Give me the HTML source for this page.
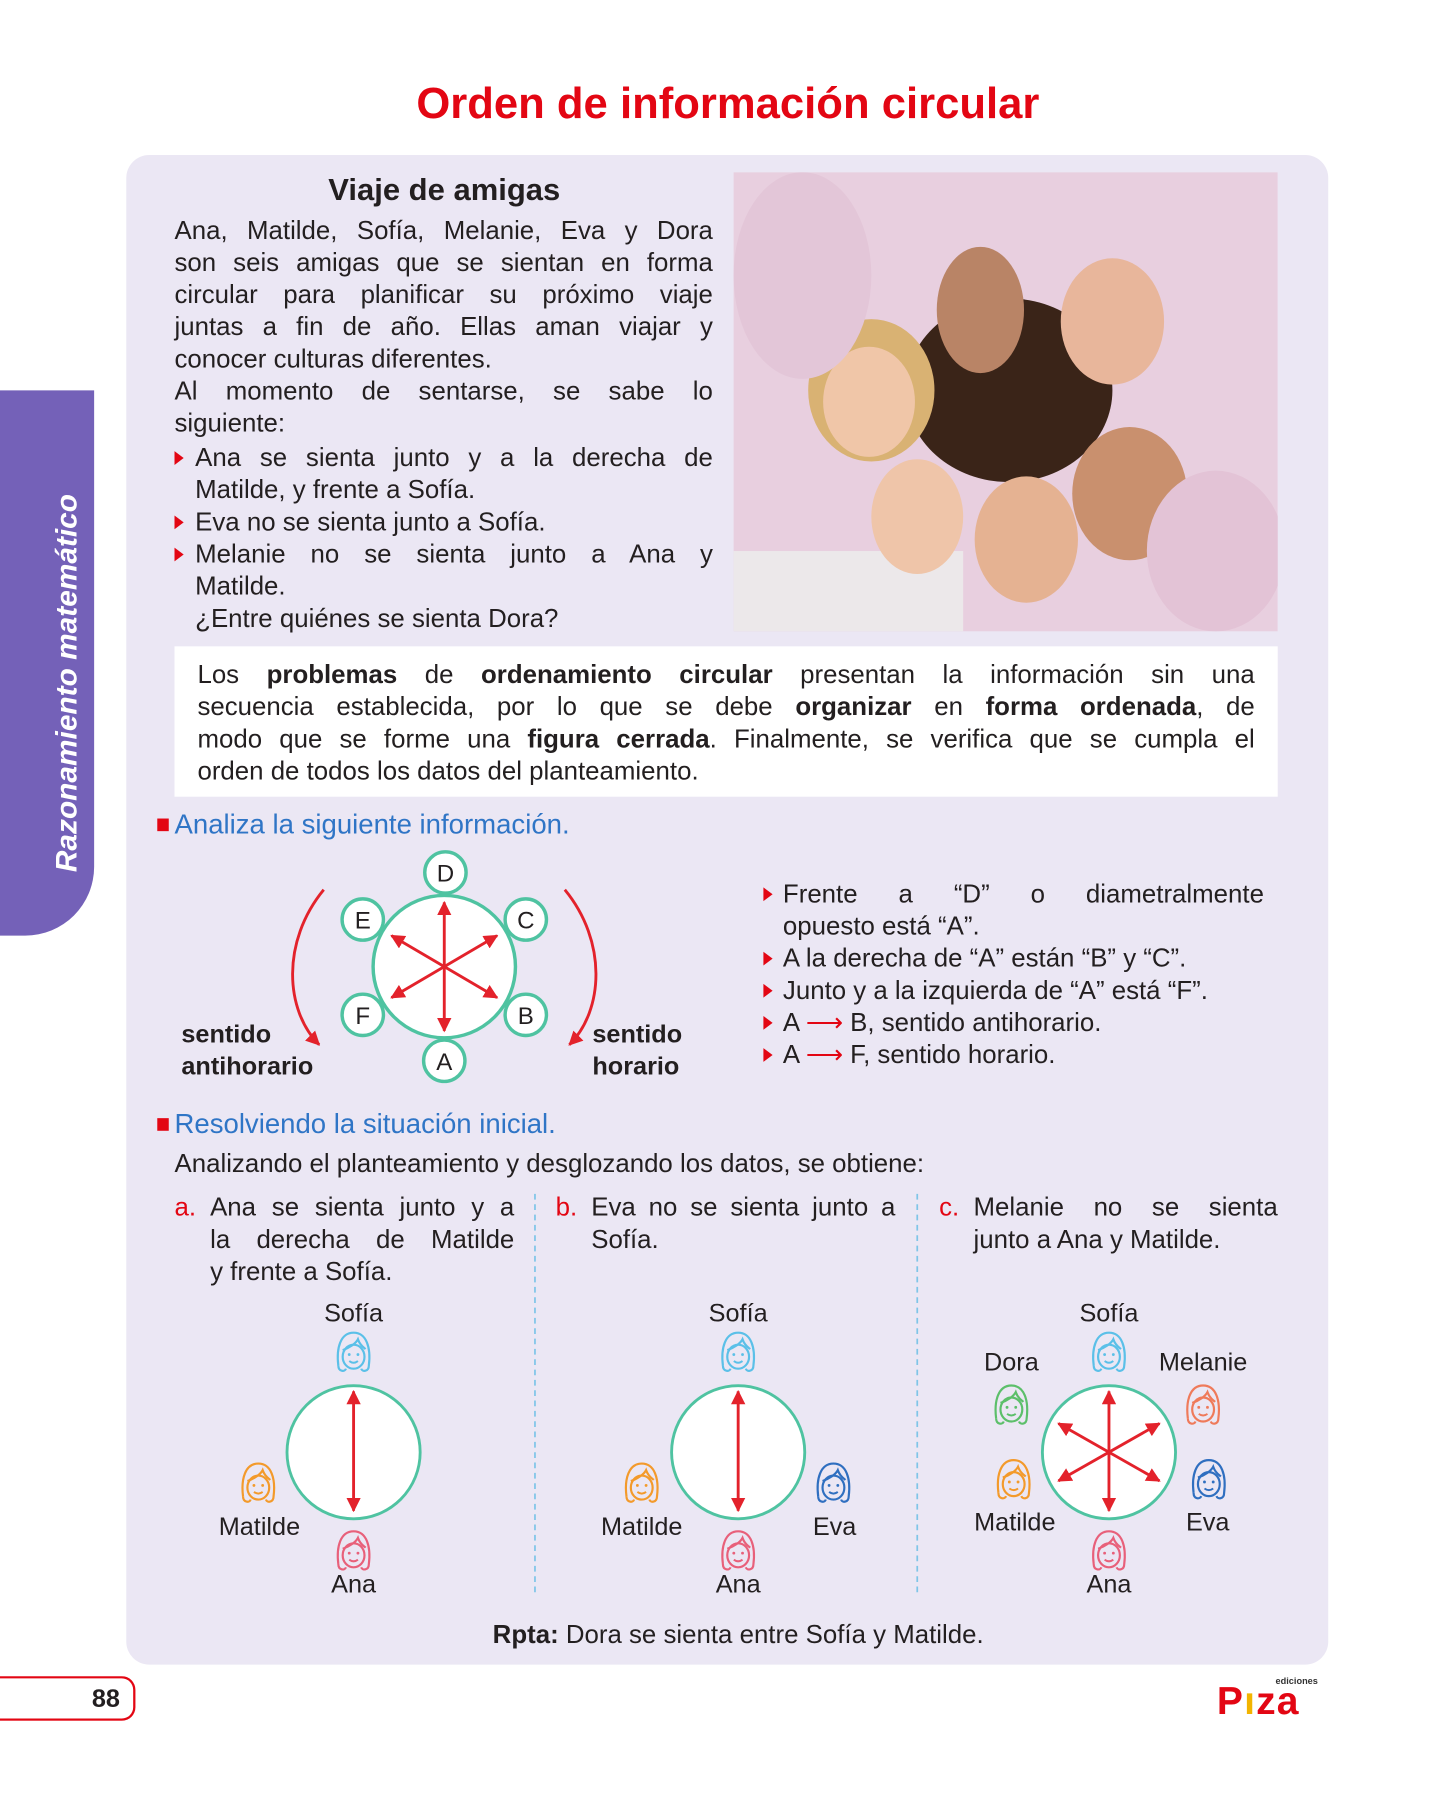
<!DOCTYPE html>
<html><head><meta charset="utf-8">
<style>
html,body{margin:0;padding:0;background:#fff;}
body{width:1452px;height:1800px;overflow:hidden;position:relative;font-family:"Liberation Sans",sans-serif;color:#231f20;}
#s{position:absolute;left:0;top:0;width:1270px;height:1555px;transform-origin:0 0;transform:scale(1.148,1.148);}
.a{position:absolute;}
.t{font-size:22.5px;line-height:28px;white-space:nowrap;}
.j{text-align:justify;text-align-last:justify;white-space:normal;}
.tri{display:inline-block;width:0;height:0;border-left:8px solid #e30613;border-top:6px solid transparent;border-bottom:6px solid transparent;position:absolute;left:0;top:8px;}
b{font-weight:bold;}
.blue{color:#2f75c6;}
.red{color:#e30613;}
</style></head><body>
<div id="s">
<div class="a" style="left:0;width:1268px;top:70px;text-align:center;font-size:38px;font-weight:bold;color:#e30613;">Orden de información circular</div>

<div class="a" style="left:110px;top:135px;width:1047px;height:1315px;background:#ebe7f4;border-radius:20px;"></div>

<div class="a" style="left:0;top:340px;width:82px;height:475px;background:#7461b8;border-radius:0 0 60px 0;"></div>
<div class="a" style="left:58px;top:595px;transform:translate(-50%,-50%) rotate(-90deg);white-space:nowrap;color:#fff;font-weight:bold;font-style:italic;font-size:26px;">Razonamiento matemático</div>

<div class="a" style="left:152px;width:470px;top:150px;text-align:center;font-size:27px;font-weight:bold;">Viaje de amigas</div>
<div class="a" style="left:152px;top:187px;width:469px;">
<div class="t j">Ana, Matilde, Sofía, Melanie, Eva y Dora</div>
<div class="t j">son seis amigas que se sientan en forma</div>
<div class="t j">circular para planificar su próximo viaje</div>
<div class="t j">juntas a fin de año. Ellas aman viajar y</div>
<div class="t">conocer culturas diferentes.</div>
<div class="t j">Al momento de sentarse, se sabe lo</div>
<div class="t">siguiente:</div>
<div style="position:relative;padding-left:18px;margin-top:2px;"><span class="tri"></span><div class="t j">Ana se sienta junto y a la derecha de</div><div class="t">Matilde, y frente a Sofía.</div></div>
<div style="position:relative;padding-left:18px;"><span class="tri"></span><div class="t">Eva no se sienta junto a Sofía.</div></div>
<div style="position:relative;padding-left:18px;"><span class="tri"></span><div class="t j">Melanie no se sienta junto a Ana y</div><div class="t">Matilde.</div><div class="t">¿Entre quiénes se sienta Dora?</div></div>
</div>

<svg class="a" style="left:639px;top:150px;" width="474" height="400" viewBox="0 0 474 400">
<rect width="474" height="400" fill="#e8cfdf"/>
<rect x="0" y="330" width="200" height="70" fill="#ece8ea"/>
<ellipse cx="240" cy="190" rx="90" ry="80" fill="#3a2418"/>
<ellipse cx="120" cy="190" rx="55" ry="62" fill="#d9b273"/>
<ellipse cx="118" cy="200" rx="40" ry="48" fill="#f0c6a8"/>
<ellipse cx="215" cy="120" rx="38" ry="55" fill="#b98466"/>
<ellipse cx="330" cy="130" rx="45" ry="55" fill="#e8b69b"/>
<ellipse cx="345" cy="280" rx="50" ry="58" fill="#c9906e"/>
<ellipse cx="255" cy="320" rx="45" ry="55" fill="#e5b292"/>
<ellipse cx="160" cy="300" rx="40" ry="50" fill="#efc5a9"/>
<ellipse cx="420" cy="330" rx="60" ry="70" fill="#e3c3d6"/>
<ellipse cx="60" cy="90" rx="60" ry="90" fill="#e3c6d8"/>
</svg>

<div class="a" style="left:152px;top:563px;width:961px;height:131px;background:#fff;"></div>
<div class="a" style="left:172px;top:574px;width:921px;">
<div class="t j">Los <b>problemas</b> de <b>ordenamiento circular</b> presentan la información sin una</div>
<div class="t j">secuencia establecida, por lo que se debe <b>organizar</b> en <b>forma ordenada</b>, de</div>
<div class="t j">modo que se forme una <b>figura cerrada</b>. Finalmente, se verifica que se cumpla el</div>
<div class="t">orden de todos los datos del planteamiento.</div>
</div>

<div class="a" style="left:137px;top:713px;width:10px;height:11px;background:#e30613;"></div>
<div class="a blue" style="left:152px;top:705px;font-size:24px;">Analiza la siguiente información.</div>

<svg class="a" style="left:0;top:0;" width="1270" height="1555">
<defs>
<marker id="ah" viewBox="0 0 10 10" refX="9" refY="5" markerWidth="5" markerHeight="5" orient="auto-start-reverse"><path d="M0,0 L10,5 L0,10 z" fill="#e3222b"/></marker>
<symbol id="face" viewBox="0 0 40 44">
<path d="M6,34 C4,18 8,4 20,4 C32,4 36,18 34,34 C34,40 28,40 27,37" fill="none" stroke="currentColor" stroke-width="2"/>
<path d="M6,34 C6,40 12,40 13,37" fill="none" stroke="currentColor" stroke-width="2"/>
<path d="M10,20 C16,18 22,14 24,10 C26,16 30,18 31,19" fill="none" stroke="currentColor" stroke-width="2"/>
<ellipse cx="20" cy="26" rx="10" ry="11" fill="none" stroke="currentColor" stroke-width="2"/>
<circle cx="16" cy="24" r="1.3" fill="currentColor"/><circle cx="24" cy="24" r="1.3" fill="currentColor"/>
<path d="M16,30 Q20,33 24,30" fill="none" stroke="currentColor" stroke-width="1.8"/>
</symbol>
</defs>
<g fill="#fff" stroke="#4fc3a1" stroke-width="3">
<circle cx="387" cy="842" r="62"/>
<circle cx="388" cy="760" r="18"/><circle cx="316" cy="801" r="18"/><circle cx="458" cy="801" r="18"/>
<circle cx="316" cy="884" r="18"/><circle cx="458" cy="884" r="18"/><circle cx="387" cy="924" r="18"/>
</g>
<g font-size="21" fill="#231f20" text-anchor="middle" font-family="Liberation Sans, sans-serif">
<text x="388" y="768">D</text><text x="316" y="809">E</text><text x="458" y="809">C</text>
<text x="316" y="892">F</text><text x="458" y="892">B</text><text x="387" y="932">A</text>
</g>
<g stroke="#e3222b" stroke-width="2.5" marker-start="url(#ah)" marker-end="url(#ah)">
<line x1="387" y1="786" x2="387" y2="898"/>
<line x1="341" y1="815" x2="433" y2="869"/>
<line x1="433" y1="815" x2="341" y2="869"/>
</g>
<path d="M282,775 C245,820 248,880 278,910" fill="none" stroke="#e3222b" stroke-width="2.5" marker-end="url(#ah)"/>
<path d="M492,775 C529,820 526,880 496,910" fill="none" stroke="#e3222b" stroke-width="2.5" marker-end="url(#ah)"/>
<g font-size="22" font-weight="bold" fill="#231f20" font-family="Liberation Sans, sans-serif">
<text x="158" y="908">sentido</text><text x="158" y="936">antihorario</text>
<text x="516" y="908">sentido</text><text x="516" y="936">horario</text>
</g>

<g stroke="#7fc5e8" stroke-width="1.5" stroke-dasharray="5,4">
<line x1="466" y1="1040" x2="466" y2="1390"/><line x1="799" y1="1040" x2="799" y2="1390"/>
</g>
<g fill="#fff" stroke="#4fc3a1" stroke-width="2.5">
<circle cx="308" cy="1265" r="58"/><circle cx="643" cy="1265" r="58"/><circle cx="966" cy="1265" r="58"/>
</g>
<g stroke="#e3222b" stroke-width="2.5" marker-start="url(#ah)" marker-end="url(#ah)">
<line x1="308" y1="1212" x2="308" y2="1316"/>
<line x1="643" y1="1212" x2="643" y2="1316"/>
<line x1="966" y1="1212" x2="966" y2="1316"/>
<line x1="922" y1="1240" x2="1010" y2="1290"/>
<line x1="1010" y1="1240" x2="922" y2="1290"/>
</g>
<g>
<use href="#face" x="289" y="1157" width="38" height="42" style="color:#5bc0e8"/>
<use href="#face" x="206" y="1271" width="38" height="42" style="color:#f39a2b"/>
<use href="#face" x="289" y="1330" width="38" height="42" style="color:#e8607a"/>
<use href="#face" x="624" y="1157" width="38" height="42" style="color:#5bc0e8"/>
<use href="#face" x="540" y="1271" width="38" height="42" style="color:#f39a2b"/>
<use href="#face" x="707" y="1271" width="38" height="42" style="color:#2f6fc0"/>
<use href="#face" x="624" y="1330" width="38" height="42" style="color:#e8607a"/>
<use href="#face" x="947" y="1157" width="38" height="42" style="color:#5bc0e8"/>
<use href="#face" x="862" y="1203" width="38" height="42" style="color:#5cbf6a"/>
<use href="#face" x="1029" y="1203" width="38" height="42" style="color:#ef7a5a"/>
<use href="#face" x="864" y="1268" width="38" height="42" style="color:#f39a2b"/>
<use href="#face" x="1034" y="1268" width="38" height="42" style="color:#2f6fc0"/>
<use href="#face" x="947" y="1330" width="38" height="42" style="color:#e8607a"/>
</g>
<g font-size="22" fill="#231f20" text-anchor="middle" font-family="Liberation Sans, sans-serif">
<text x="308" y="1151">Sofía</text><text x="226" y="1337">Matilde</text><text x="308" y="1387">Ana</text>
<text x="643" y="1151">Sofía</text><text x="559" y="1337">Matilde</text><text x="727" y="1337">Eva</text><text x="643" y="1387">Ana</text>
<text x="966" y="1151">Sofía</text><text x="881" y="1194">Dora</text><text x="1048" y="1194">Melanie</text>
<text x="884" y="1333">Matilde</text><text x="1052" y="1333">Eva</text><text x="966" y="1387">Ana</text>
</g>
</svg>

<div class="a" style="left:665px;top:765px;width:436px;">
<div style="position:relative;padding-left:17px;"><span class="tri"></span><div class="t j">Frente a “D” o diametralmente</div><div class="t">opuesto está “A”.</div></div>
<div style="position:relative;padding-left:17px;"><span class="tri"></span><div class="t">A la derecha de “A” están “B” y “C”.</div></div>
<div style="position:relative;padding-left:17px;"><span class="tri"></span><div class="t">Junto y a la izquierda de “A” está “F”.</div></div>
<div style="position:relative;padding-left:17px;"><span class="tri"></span><div class="t">A <span class="red">⟶</span> B, sentido antihorario.</div></div>
<div style="position:relative;padding-left:17px;"><span class="tri"></span><div class="t">A <span class="red">⟶</span> F, sentido horario.</div></div>
</div>

<div class="a" style="left:137px;top:974px;width:10px;height:11px;background:#e30613;"></div>
<div class="a blue" style="left:152px;top:966px;font-size:24px;">Resolviendo la situación inicial.</div>
<div class="a t" style="left:152px;top:1000px;">Analizando el planteamiento y desglozando los datos, se obtiene:</div>

<div class="a" style="left:152px;top:1038px;width:296px;">
<span class="red t" style="position:absolute;left:0;top:0;">a.</span>
<div style="margin-left:31px;"><div class="t j">Ana se sienta junto y a</div><div class="t j">la derecha de Matilde</div><div class="t">y frente a Sofía.</div></div></div>
<div class="a" style="left:484px;top:1038px;width:296px;">
<span class="red t" style="position:absolute;left:0;top:0;">b.</span>
<div style="margin-left:31px;"><div class="t j">Eva no se sienta junto a</div><div class="t">Sofía.</div></div></div>
<div class="a" style="left:818px;top:1038px;width:295px;">
<span class="red t" style="position:absolute;left:0;top:0;">c.</span>
<div style="margin-left:30px;"><div class="t j">Melanie no se sienta</div><div class="t">junto a Ana y Matilde.</div></div></div>

<div class="a t" style="left:110px;width:1066px;top:1410px;text-align:center;"><b>Rpta:</b> Dora se sienta entre Sofía y Matilde.</div>

<div class="a" style="left:-4px;top:1460px;width:120px;height:35px;border:2.5px solid #e30613;border-left:none;border-radius:0 12px 12px 0;"></div>
<div class="a" style="left:80px;top:1467px;font-size:22px;font-weight:bold;">88</div>

<div class="a" style="left:1060px;top:1460px;width:90px;height:40px;">
<div style="position:absolute;right:2px;top:0;font-size:8px;font-weight:bold;color:#333;">ediciones</div>
<div style="position:absolute;left:0;top:4px;font-size:34px;font-weight:bold;color:#e30613;letter-spacing:1px;line-height:36px;">P<span style="color:#f2b400;">ı</span>za</div>
</div>
</div>
</body></html>
